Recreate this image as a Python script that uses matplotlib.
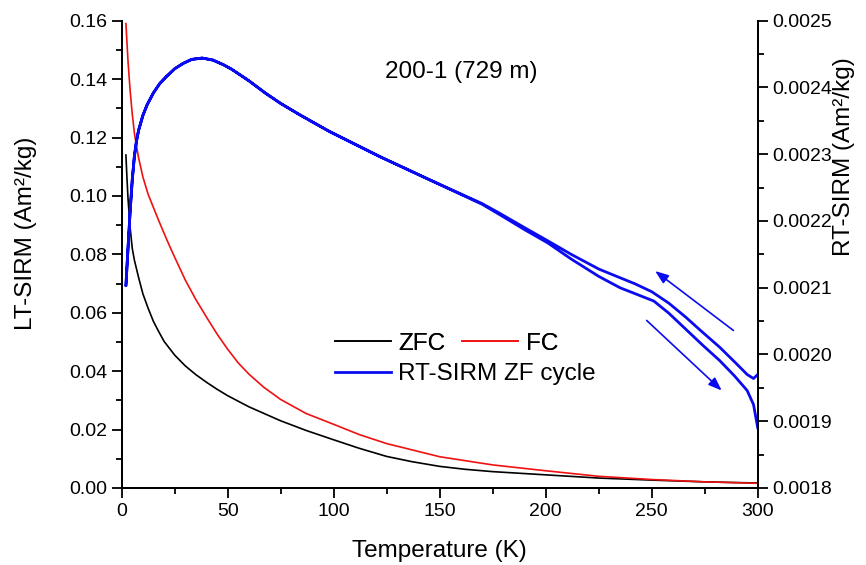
import matplotlib.pyplot as plt
from matplotlib.ticker import MultipleLocator, FormatStrFormatter

plt.rcParams['font.family'] = ['Liberation Sans', 'DejaVu Sans']

# ZFC curve (left axis)
T_zfc = [2, 2.5, 3, 4, 5, 6, 8, 10, 12.5, 15, 17.5, 20, 25, 30, 35, 40, 45, 50, 60, 75, 87, 100, 112, 125,
         137, 150, 162, 175, 200, 225, 250, 275, 300]
zfc = [0.114, 0.106, 0.099, 0.089, 0.082, 0.078, 0.072, 0.0665, 0.0615, 0.057, 0.0535, 0.0502, 0.0455, 0.0418,
       0.0388, 0.0362, 0.0338, 0.0316, 0.0278, 0.0230, 0.0197, 0.0165, 0.0136, 0.0108, 0.0090, 0.0074, 0.0064,
       0.0056, 0.0045, 0.0034, 0.0027, 0.0021, 0.0017]

# FC curve (left axis)
T_fc = [2, 3, 4, 5, 6, 7, 8, 10, 12.5, 15, 17.5, 20, 22.5, 25, 30, 35, 40, 45, 50, 55, 60, 67, 75, 87, 100,
        112, 125, 150, 175, 200, 225, 250, 275, 300]
fc = [0.159, 0.146, 0.136, 0.128, 0.1215, 0.117, 0.113, 0.1065, 0.1005, 0.096, 0.0915, 0.0872, 0.083, 0.079,
      0.0712, 0.0645, 0.0585, 0.0527, 0.0475, 0.0428, 0.039, 0.0345, 0.0303, 0.0255, 0.0218, 0.0183, 0.0152,
      0.0107, 0.0079, 0.0059, 0.0040, 0.0029, 0.0021, 0.0016]

# RT-SIRM zero-field cycle (right axis): cooling 300 -> 2 K, then warming 2 -> 300 K
T_cool = [300, 298, 295, 290, 282, 273, 266, 258, 250, 242, 235, 225, 212, 200, 190, 178, 170, 145, 122, 98,
          84, 75, 68, 60, 52, 48, 43, 38, 33, 29, 25, 21, 18, 15, 12, 10, 8, 7, 6, 5, 4, 3, 2]
rt_cool = [0.00197, 0.001964, 0.00197, 0.001986, 0.002011, 0.002036, 0.002056, 0.002077, 0.002094, 0.002106,
           0.002115, 0.002128, 0.00215, 0.002172, 0.00219, 0.002212, 0.002226, 0.002262, 0.002296, 0.002334,
           0.002359, 0.002376, 0.002391, 0.00241, 0.002427, 0.002434, 0.002441, 0.002444, 0.002442, 0.002436,
           0.002428, 0.002416, 0.002406, 0.002392, 0.002374, 0.002358, 0.002336, 0.00232, 0.002297, 0.002262,
           0.002215, 0.00216, 0.002103]
T_warm = [2, 3, 4, 5, 6, 7, 8, 10, 12, 15, 18, 21, 25, 29, 33, 38, 43, 48, 52, 60, 68, 75, 84, 98, 122, 145,
          170, 178, 190, 201, 212, 225, 235, 243, 251, 258, 266, 274, 282, 289, 295, 298, 300]
rt_warm = [0.002103, 0.00216, 0.002215, 0.002262, 0.002297, 0.00232, 0.002336, 0.002358, 0.002374, 0.002392,
           0.002406, 0.002416, 0.002428, 0.002436, 0.002442, 0.002444, 0.002441, 0.002434, 0.002427, 0.00241,
           0.002391, 0.002376, 0.002359, 0.002334, 0.002296, 0.002262, 0.002225, 0.00221, 0.002187, 0.002167,
           0.002143, 0.002117, 0.002100, 0.002090, 0.002080, 0.002062, 0.002038, 0.002014, 0.001991, 0.001968,
           0.001946, 0.001925, 0.00189]

# direction arrows (tail T, tail M, head T, head M) on right axis
arrow_cool = (288.5, 0.002036, 251.6, 0.002125)
arrow_warm = (247.6, 0.002051, 283.0, 0.001946)

blue = '#0b0bf0'

fig = plt.figure(figsize=(8.66, 5.65), dpi=100)
ax = fig.add_axes([0.1405, 0.1363, 0.7345, 0.8271])
ax2 = ax.twinx()

l1, = ax.plot(T_zfc, zfc, color='black', lw=1.2, label='ZFC')
l2, = ax.plot(T_fc, fc, color='#ee1111', lw=1.2, label='FC')
l3, = ax2.plot(T_cool + T_warm, rt_cool + rt_warm, color=blue, lw=2.0, label='RT-SIRM ZF cycle')

for a in [arrow_cool, arrow_warm]:
    ax2.annotate('', xy=(a[2], a[3]), xytext=(a[0], a[1]),
                 arrowprops=dict(arrowstyle='-|>,head_length=0.8,head_width=0.3', color=blue, lw=1.2,
                                 shrinkA=0, shrinkB=0))

ax.set_xlim(0, 300)
ax.set_ylim(0, 0.16)
ax2.set_ylim(0.0018, 0.0025)

ax.xaxis.set_major_locator(MultipleLocator(50))
ax.xaxis.set_minor_locator(MultipleLocator(25))
ax.yaxis.set_major_locator(MultipleLocator(0.02))
ax.yaxis.set_minor_locator(MultipleLocator(0.01))
ax.yaxis.set_major_formatter(FormatStrFormatter('%.2f'))
ax2.yaxis.set_major_locator(MultipleLocator(0.0001))
ax2.yaxis.set_minor_locator(MultipleLocator(0.00005))
ax2.yaxis.set_major_formatter(FormatStrFormatter('%.4f'))

for a in [ax, ax2]:
    a.spines['top'].set_visible(False)
    for s in a.spines.values():
        s.set_linewidth(1.4)
    a.tick_params(which='major', direction='out', length=7, width=1.3, labelsize=14)
    a.tick_params(which='minor', direction='out', length=4, width=1.3)

ax.set_xlabel('Temperature (K)', fontsize=17.5)
ax.set_ylabel('LT-SIRM (Am²/kg)', fontsize=17.5)
ax2.set_ylabel('RT-SIRM (Am²/kg)', fontsize=17.5)
ax.xaxis.set_label_coords(0.5, -0.135)
ax.xaxis.label.set_va('center')
ax.yaxis.set_label_coords(-0.15, 0.545)
ax.yaxis.label.set_va('center')
ax2.yaxis.set_label_coords(1.136, 0.71)
ax2.yaxis.label.set_va('center')

ax.text(160, 0.1425, '200-1 (729 m)', fontsize=17.5, ha='center', va='center')

leg1 = ax.legend(handles=[l1, l2], ncol=2, loc='center left', bbox_to_anchor=(0.3354, 0.309),
                 frameon=False, fontsize=17.5, handlelength=2.3, handletextpad=0.3, columnspacing=0.7,
                 borderpad=0, borderaxespad=0)
ax.add_artist(leg1)
ax2.legend(handles=[l3], loc='center left', bbox_to_anchor=(0.3354, 0.243),
           frameon=False, fontsize=17.5, handlelength=2.3, handletextpad=0.3,
           borderpad=0, borderaxespad=0)

fig.savefig('out.png', dpi=100)
